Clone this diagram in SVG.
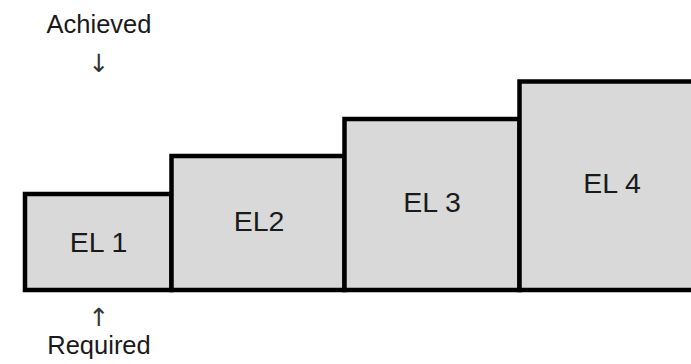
<svg xmlns="http://www.w3.org/2000/svg" width="691" height="364" viewBox="0 0 691 364">
<style>
.box{fill:#d9d9d9;stroke:#000;stroke-width:4.5}
.lbl{font-family:"Liberation Sans",Arial,sans-serif;font-size:28.5px;fill:#1a1a1a;text-anchor:middle}
.cap{font-family:"Liberation Sans",Arial,sans-serif;font-size:25.5px;fill:#1a1a1a;text-anchor:middle}
.arr{font-family:"DejaVu Sans",sans-serif;font-size:25px;fill:#333;text-anchor:middle}
</style>
<rect width="691" height="364" fill="#fff"/>
<g id="el1"><rect class="box" x="25" y="194" width="146.5" height="96"/><text class="lbl" x="98.5" y="252">EL 1</text></g>
<g id="el2"><rect class="box" x="171.5" y="156" width="173" height="134"/><text class="lbl" x="259" y="231">EL2</text></g>
<g id="el3"><rect class="box" x="344.5" y="119" width="175" height="171"/><text class="lbl" x="432" y="212">EL 3</text></g>
<g id="el4"><rect class="box" x="519.5" y="81.5" width="190" height="208.5"/><text class="lbl" x="612" y="193">EL 4</text></g>
<g id="achieved"><text class="cap" x="99" y="33">Achieved</text><text class="arr" x="99" y="72">↓</text></g>
<g id="required"><text class="arr" x="99" y="326">↑</text><text class="cap" x="99" y="354">Required</text></g>
<g id="connectors"></g>
</svg>
